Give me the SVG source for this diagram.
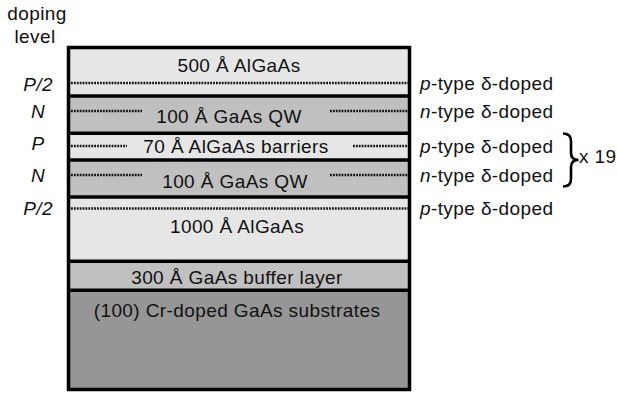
<svg xmlns="http://www.w3.org/2000/svg" width="618" height="394" viewBox="0 0 618 394">
<style>
text{font-family:"Liberation Sans",Arial,sans-serif;font-size:19px;fill:#111;letter-spacing:0.4px}
.c{text-anchor:middle}
.i{font-style:italic}
.light{fill:#e6e6e6}
.mid{fill:#c0c0c0}
.dark{fill:#969696}
.sep{stroke:#000;stroke-width:3.5;fill:none}
.dot{stroke:#111;stroke-width:2.4;stroke-dasharray:1.8 1.1;fill:none}
</style>
<rect width="618" height="394" fill="#fff"/>
<g id="title">
<text class="c" x="37" y="20">doping</text>
<text class="c" x="35" y="43">level</text>
</g>
<g id="layers">
<g id="l500"><rect class="light" x="68" y="47" width="342" height="49"/><text class="c" x="239" y="72">500 Å AlGaAs</text></g>
<g id="qw1"><rect class="mid" x="68" y="96" width="342" height="37"/><text class="c" x="229" y="123">100 Å GaAs QW</text></g>
<g id="barrier"><rect class="light" x="68" y="133" width="342" height="27"/><text class="c" x="236" y="153">70 Å AlGaAs barriers</text></g>
<g id="qw2"><rect class="mid" x="68" y="160" width="342" height="37"/><text class="c" x="235" y="188">100 Å GaAs QW</text></g>
<g id="l1000"><rect class="light" x="68" y="197" width="342" height="64"/><text class="c" x="237" y="233">1000 Å AlGaAs</text></g>
<g id="buffer"><rect class="mid" x="68" y="261" width="342" height="29"/><text class="c" x="237" y="284">300 Å GaAs buffer layer</text></g>
<g id="substrate"><rect class="dark" x="68" y="290" width="342" height="100"/><text class="c" x="237" y="317">(100) Cr-doped GaAs substrates</text></g>
</g>
<g id="separators">
<line class="sep" x1="68" y1="96" x2="410" y2="96"/>
<line class="sep" x1="68" y1="133.3" x2="410" y2="133.3"/>
<line class="sep" x1="68" y1="160" x2="410" y2="160"/>
<line class="sep" x1="68" y1="197" x2="410" y2="197"/>
<line class="sep" x1="68" y1="261.3" x2="410" y2="261.3"/>
<line class="sep" x1="68" y1="290.3" x2="410" y2="290.3"/>
<rect class="sep" x="68.5" y="47.5" width="341" height="342"/>
</g>
<g id="dopinglines">
<line class="dot" x1="71" y1="83" x2="408" y2="83"/>
<line class="dot" x1="71" y1="111" x2="142" y2="111"/>
<line class="dot" x1="330" y1="111" x2="408" y2="111"/>
<line class="dot" x1="71" y1="146" x2="127" y2="146"/>
<line class="dot" x1="353" y1="146" x2="408" y2="146"/>
<line class="dot" x1="71" y1="175" x2="142" y2="175"/>
<line class="dot" x1="330" y1="175" x2="408" y2="175"/>
<line class="dot" x1="71" y1="208.5" x2="408" y2="208.5"/>
</g>
<g id="levels">
<text class="c i" x="38" y="90.5">P/2</text>
<text class="c i" x="38" y="118">N</text>
<text class="c i" x="38" y="150">P</text>
<text class="c i" x="38" y="182">N</text>
<text class="c i" x="38" y="215">P/2</text>
</g>
<g id="types">
<text x="420" y="89.5"><tspan class="i">p</tspan>-type δ-doped</text>
<text x="420" y="118"><tspan class="i">n</tspan>-type δ-doped</text>
<text x="420" y="152.7"><tspan class="i">p</tspan>-type δ-doped</text>
<text x="420" y="182"><tspan class="i">n</tspan>-type δ-doped</text>
<text x="420" y="215"><tspan class="i">p</tspan>-type δ-doped</text>
</g>
<g id="repeat">
<path d="M563,133.5 Q571,133.5 571,141 L571,153 Q571,160 578.5,160 Q571,160 571,167 L571,179 Q571,186.5 563,186.5" fill="none" stroke="#000" stroke-width="2.6"/>
<text x="579" y="163.3">x 19</text>
</g>
</svg>
